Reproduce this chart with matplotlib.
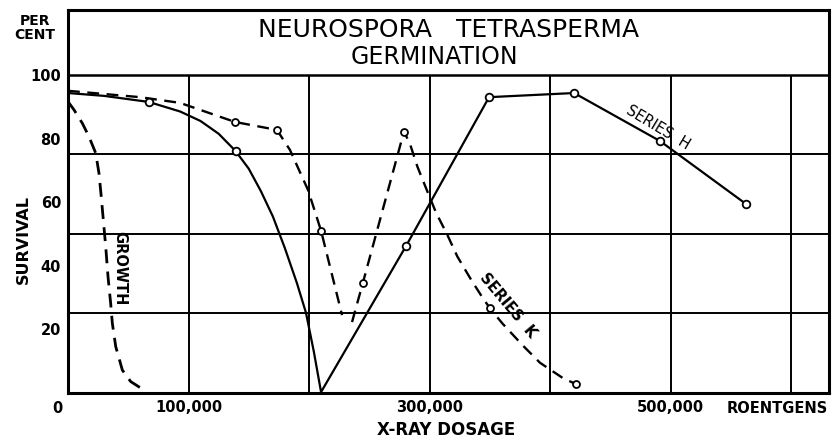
import matplotlib
matplotlib.use("Agg")
import matplotlib.pyplot as plt

# ---- data ----
# Series H (solid) traced curve and measured points
h_x = [0, 30000, 67000, 93000, 110000, 125000, 139000, 150000, 160000, 170000, 180000,
       190000, 197500, 204000, 210000, 280500, 349400, 420000, 491300, 562700]
h_y = [94.3, 93.4, 91.5, 88.5, 85.5, 81.5, 76.1, 70.5, 63.5, 55.5, 45.5,
       34.5, 25.2, 13.0, 0.3, 46.2, 93.0, 94.3, 79.2, 59.4]
h_pts_x = [67000, 139000, 280500, 349400, 420000, 491300, 562700]
h_pts_y = [91.5, 76.1, 46.2, 93.0, 94.3, 79.2, 59.4]

# Series K (dashed), two branches
k1_x = [0, 59800, 93000, 138600, 173400, 184200, 199200, 210000, 218800, 227400]
k1_y = [95.0, 93.0, 91.2, 85.2, 82.7, 76.4, 63.8, 51.0, 37.6, 24.5]
k2_x = [235700, 244600, 278800, 283800, 289900, 297100, 305400, 314800, 323100,
        335000, 343800, 350200, 360400, 377000, 391700, 411000, 421600]
k2_y = [22.3, 34.5, 82.2, 78.3, 71.2, 64.4, 56.7, 49.7, 42.9,
        35.3, 30.1, 26.6, 21.9, 15.1, 9.5, 4.6, 2.8]
k_pts_x = [138600, 173400, 210000, 244600, 278800, 350200, 421600]
k_pts_y = [85.2, 82.7, 51.0, 34.5, 82.2, 26.6, 2.8]

# Growth (dashed)
g_x = [0, 5000, 11900, 17400, 23000, 25700, 27600, 29300, 31300, 33200, 35400, 36800,
       39600, 45100, 52000, 63100]
g_y = [91.6, 89.0, 84.8, 80.6, 75.4, 69.1, 61.7, 54.4, 46.0, 36.6, 28.2, 21.9,
       14.6, 7.2, 3.6, 0.9]

x_tick_vals = [100000, 300000, 500000]
x_tick_labels = ["100,000", "300,000", "500,000"]
y_tick_vals = [20, 40, 60, 80, 100]
x_grid = [100000, 200000, 300000, 400000, 500000, 600000]
y_grid = [25, 50, 75]

# ---- figure ----
fig = plt.figure(figsize=(8.32, 4.40), dpi=100)
ax = fig.add_axes([68 / 832, 47 / 440, 761 / 832, 383 / 440])
ax.set_xlim(0, 631500)
ax.set_ylim(0, 120.4)

# grid
ax.vlines(x_grid, 0, 100, color="black", lw=1.4, zorder=1)
ax.hlines(y_grid, 0, 631500, color="black", lw=1.4, zorder=1)
ax.axhline(100, color="black", lw=1.8, zorder=1)

for s in ax.spines.values():
    s.set_linewidth(2.2)

# curves
ax.plot(h_x, h_y, color="black", lw=1.6, zorder=3)
ax.plot(h_pts_x, h_pts_y, ls="none", marker="o", ms=5.5, mfc="white", mec="black",
        mew=1.3, zorder=4)
dash = (0, (5, 3.2))
ax.plot(k1_x, k1_y, color="black", lw=1.7, ls=dash, zorder=3)
ax.plot(k2_x, k2_y, color="black", lw=1.7, ls=dash, zorder=3)
ax.plot(k_pts_x, k_pts_y, ls="none", marker="o", ms=5.0, mfc="white", mec="black",
        mew=1.3, zorder=4)
ax.plot(g_x, g_y, color="black", lw=2.0, ls=(0, (5, 3)), zorder=3)

# ticks
ax.set_xticks(x_tick_vals, x_tick_labels)
ax.set_yticks(y_tick_vals, [str(v) for v in y_tick_vals])
ax.tick_params(length=0, labelsize=10.5, pad=5)
for lab in ax.get_xticklabels() + ax.get_yticklabels():
    lab.set_fontweight("bold")

ax.annotate("0", xy=(0, 0), xycoords="data", xytext=(-11, -15), textcoords="offset pixels",
            ha="center", va="center", fontsize=10.5, fontweight="bold")
ax.annotate("ROENTGENS", xy=(1, 0), xycoords="axes fraction", xytext=(-1, -15),
            textcoords="offset pixels", ha="right", va="center", fontsize=10.5,
            fontweight="bold")

# title inside the top box
ax.text(315800, 114.2, "NEUROSPORA   TETRASPERMA", ha="center", va="center", fontsize=18)
ax.text(304000, 105.5, "GERMINATION", ha="center", va="center", fontsize=17)

# curve labels
ax.text(489600, 83.6, "SERIES  H", rotation=-31, rotation_mode="anchor",
        ha="center", va="center", fontsize=10.5)
ax.text(365100, 27.4, "SERIES  K", rotation=-50, rotation_mode="anchor",
        ha="center", va="center", fontsize=10.5, fontweight="bold")
ax.text(43200, 39.3, "GROWTH", rotation=-90, rotation_mode="anchor",
        ha="center", va="center", fontsize=10.5, fontweight="bold")

# axis labels
fig.text(35 / 832, 1 - 28 / 440, "PER\nCENT", ha="center", va="center", fontsize=10,
         fontweight="bold", linespacing=1.0)
fig.text(23 / 832, 1 - 240 / 440, "SURVIVAL", ha="center", va="center", rotation=90,
         fontsize=11.5, fontweight="bold")
fig.text(446 / 832, 1 - 430 / 440, "X-RAY DOSAGE", ha="center", va="center",
         fontsize=12, fontweight="bold")

fig.savefig("out.png", dpi=100)
